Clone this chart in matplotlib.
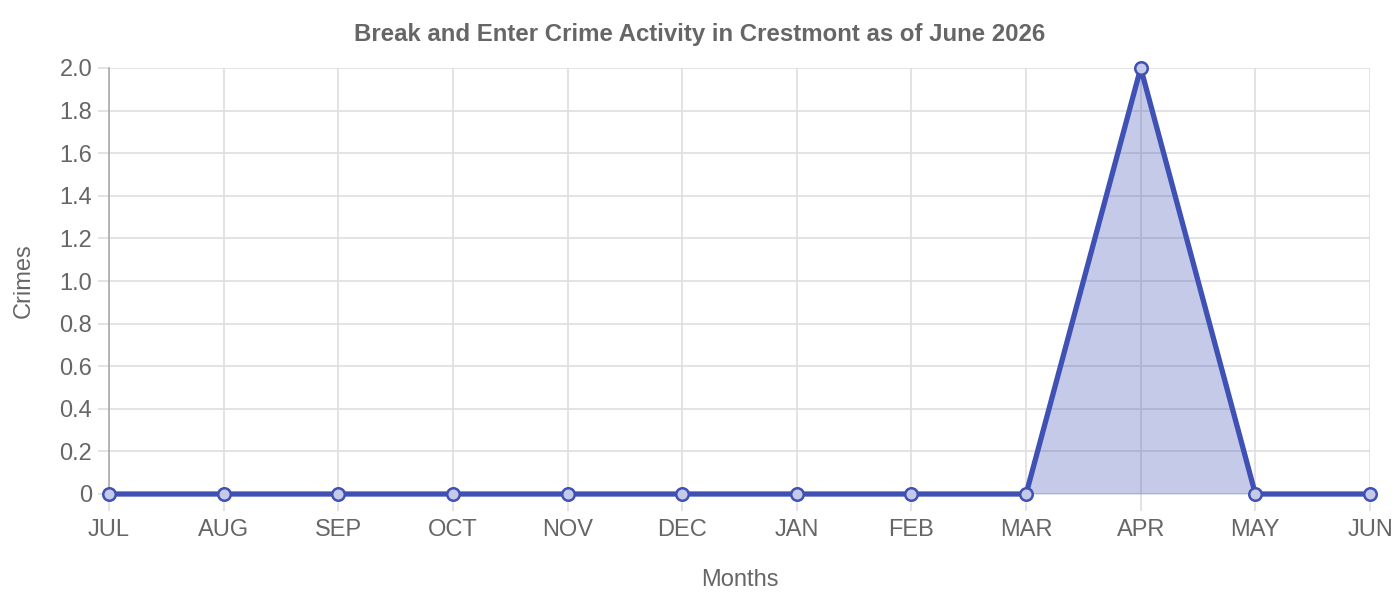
import matplotlib.pyplot as plt
import numpy as np

plt.rcParams['font.family'] = ['Liberation Sans', 'DejaVu Sans']

months = ['JUL', 'AUG', 'SEP', 'OCT', 'NOV', 'DEC', 'JAN', 'FEB', 'MAR', 'APR', 'MAY', 'JUN']
crimes = [0, 0, 0, 0, 0, 0, 0, 0, 0, 2, 0, 0]
y_ticks = [0, 0.2, 0.4, 0.6, 0.8, 1.0, 1.2, 1.4, 1.6, 1.8, 2.0]
y_labels = ['0', '0.2', '0.4', '0.6', '0.8', '1.0', '1.2', '1.4', '1.6', '1.8', '2.0']

line_color = '#3f51b5'
text_color = '#666666'
grid_color = '#dedede'

x = np.arange(len(months))

fig = plt.figure(figsize=(14, 6), dpi=100)
ax = fig.add_axes([109 / 1400, 1 - 494 / 600, (1370 - 109) / 1400, (494 - 68) / 600])

ax.fill_between(x, crimes, 0, color=line_color, alpha=0.3, lw=0, zorder=2)
ax.axhline(0, color='#888888', lw=1, alpha=0.6, zorder=2.5)
ax.plot(x, crimes, color=line_color, lw=3.8, zorder=3, solid_joinstyle='round', clip_on=False)
ax.plot(x, crimes, 'o', ms=9, mfc='#c5cae9', mec=line_color, mew=1.8, zorder=4, clip_on=False)

ax.set_xlim(0, len(months) - 1)
ax.set_ylim(0, 2.0)
ax.set_xticks(x)
ax.set_xticklabels(months)
ax.set_yticks(y_ticks)
ax.set_yticklabels(y_labels)

ax.grid(True, color=grid_color, lw=1.2, zorder=0)
ax.set_axisbelow(True)
for side in ['top', 'right', 'bottom']:
    ax.spines[side].set_visible(False)
ax.spines['left'].set_color('#aaaaaa')
ax.spines['left'].set_linewidth(1.2)

ax.tick_params(axis='both', colors=grid_color, labelcolor=text_color, labelsize=17, width=1.2)
ax.tick_params(axis='x', length=12, pad=6)
ax.tick_params(axis='y', length=8, pad=4)

ax.set_xlabel('Months', color=text_color, fontsize=17, labelpad=20)
ax.set_ylabel('Crimes', color=text_color, fontsize=17, labelpad=18)
fig.text(0.5, 1 - 34 / 600, 'Break and Enter Crime Activity in Crestmont as of June 2026',
         color=text_color, fontsize=17.3, fontweight='bold', ha='center', va='center')

fig.savefig('out.png', dpi=100)
